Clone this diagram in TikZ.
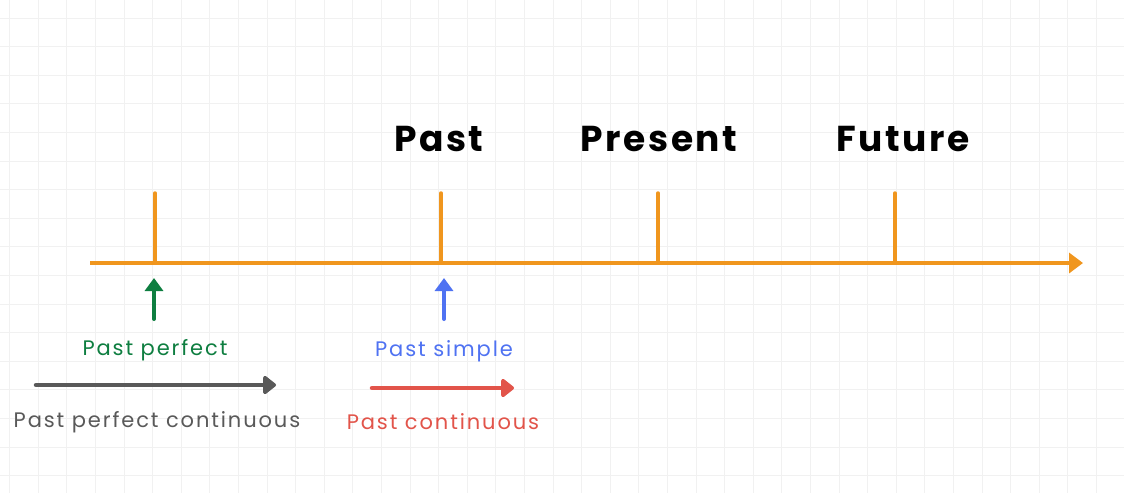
\documentclass[tikz,border=0pt]{standalone}
\usepackage{fontspec}
\setmainfont{Poppins}
\newfontfamily\tensefont[LetterSpace=9]{Poppins}
\newfontfamily\erafont[LetterSpace=7]{Poppins Bold}
\usetikzlibrary{arrows.meta}

\definecolor{axisorange}{HTML}{F0961E}
\definecolor{pfgreen}{HTML}{0E7E40}
\definecolor{psblue}{HTML}{4F72F2}
\definecolor{pcred}{HTML}{E2544A}
\definecolor{pfcgray}{HTML}{595959}
\definecolor{gridgray}{HTML}{F1F1F1}

\tikzset{
	tense/.style={font=\tensefont\fontsize{21}{24}\selectfont},
	era/.style={font=\erafont\fontsize{36}{40}\selectfont},
	pointer/.style={line width=4pt, line cap=round, -{Triangle[length=13pt,width=18pt]}},
	span/.style={line width=4.5pt, line cap=round, -{Triangle[length=14pt,width=21pt,round]}},
	tick/.style={axisorange, line width=3.5pt, line cap=round}
}

\begin{document}
\begin{tikzpicture}[x=1pt,y=-1pt]
\useasboundingbox [fill=white] (0,0) rectangle (1124,493);
\foreach \i in {0,...,39} {
	\draw [gridgray, line width=0.8pt](9.5+28.6*\i,0) -- (9.5+28.6*\i,493);
}
\foreach \i in {0,...,16} {
	\draw [gridgray, line width=0.8pt](0,18+28.6*\i) -- (1124,18+28.6*\i);
}

% time axis
\coordinate (start) at (90,263);
\coordinate (stop) at (1083,263);
\draw [axisorange, line width=4pt, -{Triangle[length=14pt,width=20pt]}] (start) -- (stop);

\foreach \name/\x in {pp/155, past/441, present/658, future/895} {
	\coordinate (\name) at (\x,263);
	\coordinate (\name top) at (\x,193);
	\draw [tick] (\name) -- (\name top);
}

\node [era] (pastlabel) at (439,139) {Past};
\node [era] (presentlabel) at (659,139) {Present};
\node [era] (futurelabel) at (903,139) {Future};

% point tenses
\coordinate (ppfoot) at (154,319);
\coordinate (pphead) at (154,278);
\draw [pointer, pfgreen] (ppfoot) -- (pphead);
\node [tense, text=pfgreen] (pplabel) at (155,350) {Past perfect};

\coordinate (psfoot) at (444,319);
\coordinate (pshead) at (444,278);
\draw [pointer, psblue] (psfoot) -- (pshead);
\node [tense, text=psblue] (pslabel) at (444,351) {Past simple};

% continuous tenses
\coordinate (pfcstart) at (36,385);
\coordinate (pfcend) at (276,385);
\draw [span, pfcgray] (pfcstart) -- (pfcend);
\node [tense, text=pfcgray] (pfclabel) at (157,422) {Past perfect continuous};

\coordinate (pcstart) at (372,388);
\coordinate (pcend) at (514,388);
\draw [span, pcred] (pcstart) -- (pcend);
\node [tense, text=pcred] (pclabel) at (443,422) {Past continuous};
\end{tikzpicture}
\end{document}
